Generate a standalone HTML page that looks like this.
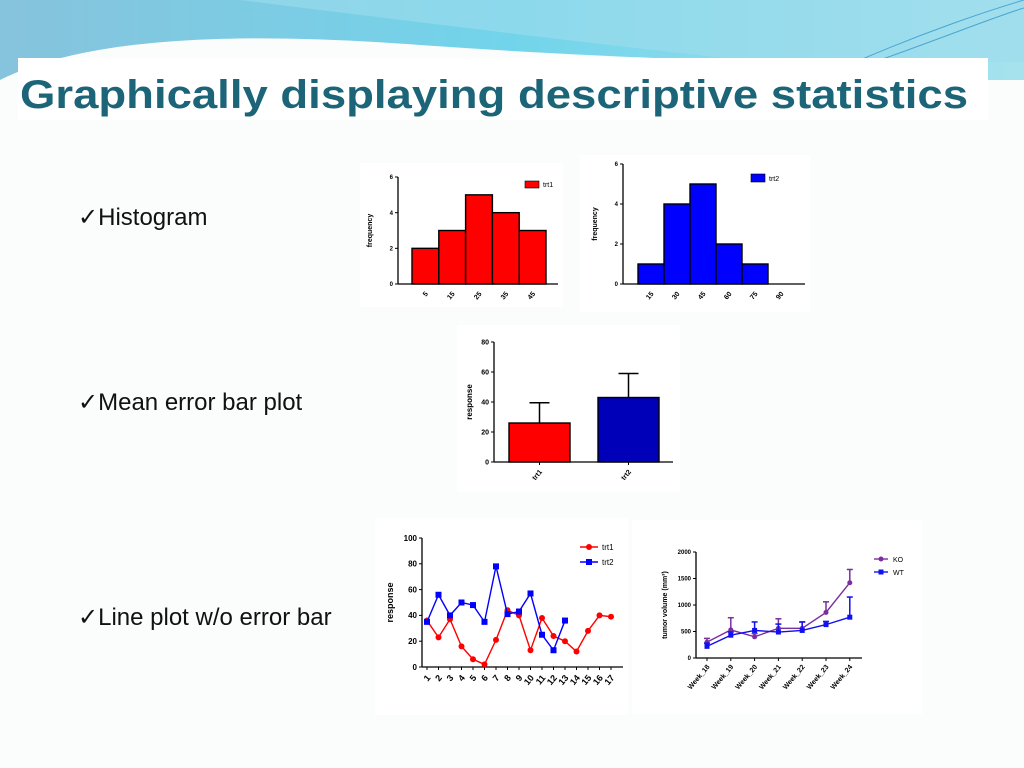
<!DOCTYPE html>
<html><head><meta charset="utf-8"><style>
html,body{margin:0;padding:0;width:1024px;height:768px;overflow:hidden;background:#fbfcfc;}
svg{display:block;font-family:"Liberation Sans",sans-serif;}
.bul{position:absolute;font-family:"Liberation Sans",sans-serif;font-size:24px;color:#111;}
</style></head><body>
<svg id="s" width="1024" height="768">
<defs>
<linearGradient id="hg" x1="0" y1="0" x2="1" y2="0"><stop offset="0" stop-color="#86c3dc"/><stop offset="0.5" stop-color="#72d4ea"/><stop offset="1" stop-color="#a6e2ee"/></linearGradient>
</defs>
<g>
<rect x="0" y="0" width="1024" height="80" fill="url(#hg)"/>
<path d="M0,80 C80,40 220,30 420,45 C560,55 700,60 760,62 L760,80 Z" fill="#fbfcfc"/>
<path d="M240,0 C400,20 560,40 760,62 L1024,62 L1024,0 Z" fill="#9fdcec" opacity="0.6"/>
<path d="M860,60 C930,30 990,10 1024,0" stroke="#4aa6cf" stroke-width="1" fill="none"/>
<path d="M880,60 C950,35 1000,15 1024,8" stroke="#4aa6cf" stroke-width="1" fill="none"/>
</g>
<rect x="18" y="58" width="970" height="62" fill="#ffffff"/>
<text x="20" y="108" font-size="40" font-weight="bold" fill="#1c6478" textLength="948" lengthAdjust="spacingAndGlyphs">Graphically displaying descriptive statistics</text>
<rect x="360" y="163" width="203" height="144" fill="#fff"/>
<rect x="580" y="155" width="230" height="157" fill="#fff"/>
<rect x="457" y="325" width="223" height="167" fill="#fff"/>
<rect x="375" y="518" width="253" height="197" fill="#fff"/>
<rect x="632" y="520" width="290" height="194" fill="#fff"/>
<g id="charts"></g>
</svg>
<div class="bul" style="left:78px;top:203px">✓Histogram</div>
<div class="bul" style="left:78px;top:388px">✓Mean error bar plot</div>
<div class="bul" style="left:78px;top:603px">✓Line plot w/o error bar</div>
<script>
const h1Labels=["5","15","25","35","45"];
const h1Values=[2,3,5,4,3];
const h2Labels=["15","30","45","60","75","90"];
const h2Values=[1,4,5,2,1,0];
const barCats=["trt1","trt2"];
const barMeans=[26,43];
const barErr=[13.5,16];
const lineX=[1,2,3,4,5,6,7,8,9,10,11,12,13,14,15,16,17];
const trt1=[36,23,37,16,6,2,21,44,40,13,38,24,20,12,28,40,39];
const trt2=[35,56,40,50,48,35,78,41,43,57,25,13,36];
const weeks=["Week_18","Week_19","Week_20","Week_21","Week_22","Week_23","Week_24"];
const ko=[300,530,400,560,560,860,1420];
const koErr=[70,230,60,180,120,200,250];
const wt=[220,430,520,490,520,630,770];
const wtErr=[60,60,160,150,160,60,380];

const NS="http://www.w3.org/2000/svg";
const root=document.getElementById('charts');
function el(tag,attrs,parent,txt){const e=document.createElementNS(NS,tag);for(const k in attrs)e.setAttribute(k,attrs[k]);if(txt!==undefined)e.textContent=txt;(parent||root).appendChild(e);return e;}
function lin(d0,d1,r0,r1){return v=>r0+(v-d0)*(r1-r0)/(d1-d0);}
function yAxis(g,x,y,ticks,ax,fs,title,tx){
  el('line',{x1:ax,y1:y(ticks[0]),x2:ax,y2:y(ticks[ticks.length-1]),stroke:'#000','stroke-width':1.3},g);
  ticks.forEach(t=>{el('line',{x1:ax-3,y1:y(t),x2:ax,y2:y(t),stroke:'#000'},g);
    el('text',{x:ax-5,y:y(t)+fs*0.35,'font-size':fs,'font-weight':'bold','text-anchor':'end'},g,String(t));});
  const cy=(y(ticks[0])+y(ticks[ticks.length-1]))/2;
  el('text',{x:tx,y:cy,'font-size':fs+1,'font-weight':'bold','text-anchor':'middle',transform:`rotate(-90 ${tx} ${cy})`},g,title);
}
function rotLabel(g,x,y,s,fs){el('text',{x:x,y:y,'font-size':fs,'font-weight':'bold','text-anchor':'end',transform:`rotate(-50 ${x} ${y})`},g,s);}

{const g=el('g',{});
const y=lin(0,6,284,177);const x0=412,bw=26.8;
yAxis(g,null,y,[0,2,4,6],398,6,'frequency',372);
el('line',{x1:398,y1:284,x2:558,y2:284,stroke:'#000','stroke-width':1.3},g);
h1Values.forEach((v,i)=>{const r=el('rect',{x:x0+i*bw,y:y(v),width:bw,height:y(0)-y(v),fill:'#ff0000',stroke:'#000','stroke-width':1.4},g);

rotLabel(g,x0+i*bw+bw/2+3,294,h1Labels[i],7);});
el('rect',{x:525,y:181,width:14,height:7,fill:'#ff0000',stroke:'#000','stroke-width':0.6},g);
el('text',{x:543,y:187,'font-size':7},g,'trt1');}

{const g=el('g',{});
const y=lin(0,6,284,164);const x0=638,bw=26;
yAxis(g,null,y,[0,2,4,6],623,6,'frequency',597);
el('line',{x1:623,y1:284,x2:805,y2:284,stroke:'#000','stroke-width':1.3},g);
h2Values.forEach((v,i)=>{if(v>0){const r=el('rect',{x:x0+i*bw,y:y(v),width:bw,height:y(0)-y(v),fill:'#0000ff',stroke:'#000','stroke-width':1.4},g);
}
rotLabel(g,x0+i*bw+bw/2+3,294,h2Labels[i],7);});
el('rect',{x:751,y:174,width:14,height:8,fill:'#0000ff',stroke:'#000','stroke-width':0.6},g);
el('text',{x:769,y:181,'font-size':7},g,'trt2');}

{const g=el('g',{});
const y=lin(0,80,462,342);
yAxis(g,null,y,[0,20,40,60,80],494,7,'response',472);
el('line',{x1:494,y1:462,x2:673,y2:462,stroke:'#000','stroke-width':1.3},g);
const xs=[509,598],bw=61,cols=['#ff0000','#0000b8'];
barCats.forEach((c,i)=>{const cx=xs[i]+bw/2;
el('line',{x1:cx,y1:y(barMeans[i]),x2:cx,y2:y(barMeans[i]+barErr[i]),stroke:'#000','stroke-width':1.5},g);
el('line',{x1:cx-10,y1:y(barMeans[i]+barErr[i]),x2:cx+10,y2:y(barMeans[i]+barErr[i]),stroke:'#000','stroke-width':1.5},g);
const r=el('rect',{x:xs[i],y:y(barMeans[i]),width:bw,height:y(0)-y(barMeans[i]),fill:cols[i],stroke:'#000','stroke-width':1.4},g);

el('line',{x1:cx,y1:462,x2:cx,y2:465,stroke:'#000'},g);
rotLabel(g,cx+3,472,c,7);});}

{const g=el('g',{});
const y=lin(0,100,667,538),x=lin(1,17,427,611);
yAxis(g,null,y,[0,20,40,60,80,100],422,8,'response',393);
el('line',{x1:422,y1:667,x2:623,y2:667,stroke:'#000','stroke-width':1.3},g);
lineX.forEach(v=>{el('line',{x1:x(v),y1:667,x2:x(v),y2:670,stroke:'#000'},g);rotLabel(g,x(v)+4,678,String(v),9);});
function series(vals,col,sq,name){el('polyline',{points:vals.map((v,i)=>x(lineX[i])+','+y(v)).join(' '),fill:'none',stroke:col,'stroke-width':1.4},g);
vals.forEach((v,i)=>{const m=sq?el('rect',{x:x(lineX[i])-3,y:y(v)-3,width:6,height:6,fill:col},g):el('circle',{cx:x(lineX[i]),cy:y(v),r:3,fill:col},g);
});}
series(trt1,'#ff0000',false,'trt1');series(trt2,'#0000ff',true,'trt2');
el('line',{x1:580,y1:547,x2:598,y2:547,stroke:'#ff0000','stroke-width':1.4},g);el('circle',{cx:589,cy:547,r:3,fill:'#ff0000'},g);
el('text',{x:602,y:550,'font-size':8},g,'trt1');
el('line',{x1:580,y1:562,x2:598,y2:562,stroke:'#0000ff','stroke-width':1.4},g);el('rect',{x:586,y:559,width:6,height:6,fill:'#0000ff'},g);
el('text',{x:602,y:565,'font-size':8},g,'trt2');}

{const g=el('g',{});
const y=lin(0,2000,658,552),x=i=>707+i*23.8;
yAxis(g,null,y,[0,500,1000,1500,2000],696,6,'tumor volume (mm³)',667);
el('line',{x1:696,y1:658,x2:862,y2:658,stroke:'#000','stroke-width':1.3},g);
weeks.forEach((w,i)=>{el('line',{x1:x(i),y1:658,x2:x(i),y2:661,stroke:'#000'},g);rotLabel(g,x(i)+3,667,w,7);});
function series(vals,errs,col,sq,name){
vals.forEach((v,i)=>{el('line',{x1:x(i),y1:y(v),x2:x(i),y2:y(v+errs[i]),stroke:col,'stroke-width':1.5},g);
el('line',{x1:x(i)-3,y1:y(v+errs[i]),x2:x(i)+3,y2:y(v+errs[i]),stroke:col,'stroke-width':1.5},g);});
el('polyline',{points:vals.map((v,i)=>x(i)+','+y(v)).join(' '),fill:'none',stroke:col,'stroke-width':1.4},g);
vals.forEach((v,i)=>{const m=sq?el('rect',{x:x(i)-2.5,y:y(v)-2.5,width:5,height:5,fill:col},g):el('circle',{cx:x(i),cy:y(v),r:2.5,fill:col},g);
});}
series(ko,koErr,'#7a2ea0',false,'ko');series(wt,wtErr,'#1010f0',true,'wt');
el('line',{x1:874,y1:559,x2:888,y2:559,stroke:'#7a2ea0','stroke-width':1.4},g);el('circle',{cx:881,cy:559,r:2.5,fill:'#7a2ea0'},g);
el('text',{x:893,y:562,'font-size':7},g,'KO');
el('line',{x1:874,y1:572,x2:888,y2:572,stroke:'#1010f0','stroke-width':1.4},g);el('rect',{x:878.5,y:569.5,width:5,height:5,fill:'#1010f0'},g);
el('text',{x:893,y:575,'font-size':7},g,'WT');}
</script>
</body></html>
